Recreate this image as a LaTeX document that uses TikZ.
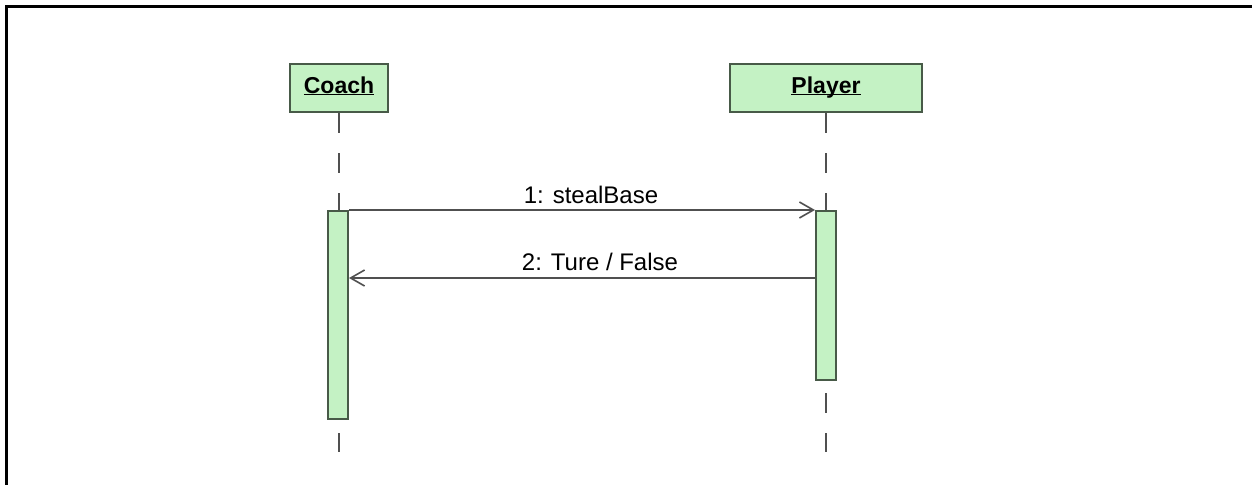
\documentclass[tikz,border=0pt]{standalone}
\usepackage{fontspec}
\setmainfont{Liberation Sans}
\usetikzlibrary{arrows.meta}
\definecolor{actfill}{RGB}{196,242,196}
\definecolor{actline}{RGB}{72,90,72}
\definecolor{msgline}{RGB}{80,80,80}
\newcommand\objname[1]{\underline{\smash{#1}}}

\begin{document}
\begin{tikzpicture}[x=1pt,y=-1pt,
    obj/.style={draw=actline,fill=actfill,line width=2pt,inner sep=0pt,
                minimum height=48pt,text height=17pt,text depth=7pt,
                font=\fontsize{23}{27}\selectfont\bfseries},
    act/.style={draw=actline,fill=actfill,line width=2pt,inner sep=0pt,
                minimum width=20pt,anchor=north},
    life/.style={draw=msgline,line width=1.6pt,dash pattern=on 20pt off 20pt},
    msg/.style={draw=msgline,line width=1.6pt,
                -{Straight Barb[length=14pt,width=16pt,line width=1.6pt]}},
    lbl/.style={font=\fontsize{24}{28}\selectfont,inner sep=0pt,anchor=base}]
    \useasboundingbox (0,0) rectangle (1252,485);

    % 边框(只有上边和左边)
    \draw[line width=3pt] (1252,6) -- (6,6) -- (6,485);

    % 放置对象
    \node[obj,minimum width=98pt] (coach) at (339,88) {\objname{Coach}};
    \node[obj,minimum width=192pt] (player) at (826,88) {\objname{Player}};

    % 生命线
    \coordinate (coachEnd) at (339,452);
    \coordinate (playerEnd) at (826,452);
    \draw[life] (coach.south) -- (coachEnd);
    \draw[life] (player.south) -- (playerEnd);

    % 激活条
    \node[act,minimum height=208pt] (coachAct) at (338,210) {};
    \node[act,minimum height=169pt] (playerAct) at (826,210) {};

    % 消息
    \draw[msg] (coachAct.north east) -- (playerAct.north west);
    \draw[msg] ([yshift=-68pt]playerAct.north west) -- ([yshift=-68pt]coachAct.north east);
    \node[lbl] (m1) at (591,203) {1: stealBase};
    \node[lbl] (m2) at (600,270) {2: Ture / False};
\end{tikzpicture}
\end{document}
